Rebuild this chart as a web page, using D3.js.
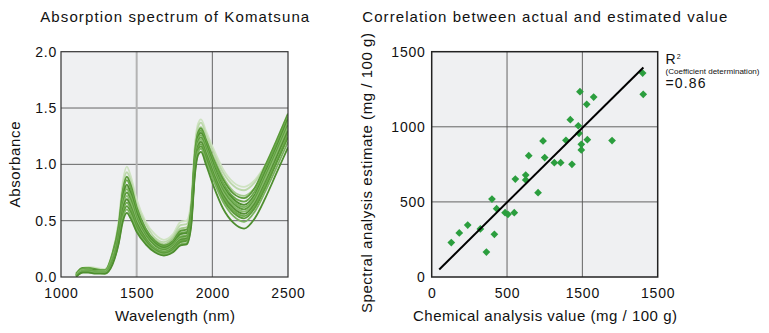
<!DOCTYPE html>
<html>
<head>
<meta charset="utf-8">
<script src="https://cdn.jsdelivr.net/npm/d3@7"></script>
<style>
  body { margin: 0; background: #fff; }
  svg text { font-family: "Liberation Sans", Arial, sans-serif; fill: #111; }
</style>
</head>
<body>
<script>
// Spectra (absorbance at these wavelengths, nm)
var wavelengths = [1100, 1140, 1180, 1230, 1290, 1340, 1380, 1410, 1435, 1460, 1500, 1560, 1620, 1680, 1740,
  1790, 1830, 1860, 1885, 1905, 1925, 1960, 2010, 2070, 2140, 2210, 2280, 2350, 2420, 2500];

var spectra = [
  [0.03, 0.08, 0.09, 0.08, 0.07, 0.22, 0.49, 0.86, 0.98, 0.90, 0.69, 0.49, 0.38, 0.33, 0.38, 0.49, 0.50, 0.68, 1.18, 1.36, 1.40, 1.29, 1.13, 0.96, 0.84, 0.80, 0.86, 0.99, 1.13, 1.30],
  [0.02, 0.07, 0.08, 0.07, 0.06, 0.20, 0.47, 0.82, 0.93, 0.86, 0.65, 0.47, 0.35, 0.31, 0.36, 0.46, 0.47, 0.65, 1.15, 1.33, 1.37, 1.26, 1.10, 0.93, 0.81, 0.77, 0.84, 0.99, 1.15, 1.35],
  [0.02, 0.06, 0.07, 0.06, 0.05, 0.18, 0.40, 0.70, 0.80, 0.74, 0.57, 0.42, 0.33, 0.29, 0.34, 0.43, 0.44, 0.62, 1.11, 1.29, 1.33, 1.22, 1.06, 0.89, 0.76, 0.72, 0.79, 0.93, 1.09, 1.28],
  [0.03, 0.08, 0.08, 0.07, 0.06, 0.21, 0.45, 0.78, 0.89, 0.82, 0.62, 0.43, 0.32, 0.28, 0.32, 0.41, 0.42, 0.60, 1.10, 1.28, 1.32, 1.21, 1.04, 0.87, 0.74, 0.70, 0.79, 0.99, 1.20, 1.45],
  [0.02, 0.07, 0.08, 0.06, 0.06, 0.19, 0.43, 0.76, 0.86, 0.79, 0.60, 0.42, 0.31, 0.27, 0.31, 0.39, 0.40, 0.58, 1.08, 1.26, 1.30, 1.19, 1.02, 0.84, 0.71, 0.67, 0.76, 0.96, 1.17, 1.42],
  [0.02, 0.06, 0.07, 0.06, 0.05, 0.17, 0.41, 0.72, 0.82, 0.75, 0.57, 0.40, 0.30, 0.26, 0.30, 0.38, 0.39, 0.57, 1.06, 1.24, 1.28, 1.17, 0.99, 0.81, 0.69, 0.64, 0.73, 0.93, 1.14, 1.40],
  [0.02, 0.06, 0.07, 0.05, 0.05, 0.16, 0.39, 0.69, 0.78, 0.72, 0.54, 0.38, 0.29, 0.25, 0.29, 0.36, 0.37, 0.55, 1.04, 1.22, 1.26, 1.15, 0.97, 0.79, 0.67, 0.62, 0.71, 0.91, 1.12, 1.38],
  [0.01, 0.05, 0.06, 0.05, 0.04, 0.15, 0.38, 0.66, 0.75, 0.69, 0.52, 0.37, 0.28, 0.24, 0.28, 0.35, 0.36, 0.54, 1.02, 1.20, 1.24, 1.13, 0.95, 0.77, 0.65, 0.60, 0.69, 0.89, 1.10, 1.35],
  [0.02, 0.06, 0.06, 0.05, 0.05, 0.17, 0.36, 0.63, 0.72, 0.66, 0.50, 0.35, 0.26, 0.23, 0.27, 0.34, 0.35, 0.52, 1.00, 1.18, 1.22, 1.11, 0.93, 0.75, 0.63, 0.58, 0.67, 0.87, 1.08, 1.33],
  [0.01, 0.05, 0.05, 0.04, 0.04, 0.14, 0.35, 0.61, 0.69, 0.63, 0.48, 0.34, 0.25, 0.22, 0.26, 0.33, 0.34, 0.51, 0.99, 1.16, 1.20, 1.09, 0.91, 0.73, 0.61, 0.56, 0.65, 0.84, 1.05, 1.30],
  [0.02, 0.05, 0.06, 0.05, 0.04, 0.16, 0.33, 0.58, 0.66, 0.61, 0.46, 0.33, 0.25, 0.22, 0.25, 0.32, 0.33, 0.50, 0.97, 1.14, 1.18, 1.07, 0.89, 0.71, 0.59, 0.54, 0.63, 0.82, 1.02, 1.27],
  [0.01, 0.04, 0.05, 0.04, 0.03, 0.13, 0.32, 0.55, 0.63, 0.58, 0.44, 0.32, 0.24, 0.21, 0.24, 0.31, 0.32, 0.49, 0.95, 1.13, 1.16, 1.05, 0.87, 0.69, 0.57, 0.52, 0.61, 0.79, 1.00, 1.24],
  [0.01, 0.05, 0.05, 0.04, 0.04, 0.12, 0.30, 0.53, 0.60, 0.55, 0.42, 0.30, 0.23, 0.20, 0.23, 0.29, 0.30, 0.47, 0.93, 1.11, 1.14, 1.02, 0.85, 0.67, 0.54, 0.49, 0.58, 0.76, 0.96, 1.20],
  [0.00, 0.04, 0.04, 0.03, 0.03, 0.11, 0.29, 0.50, 0.57, 0.52, 0.40, 0.29, 0.22, 0.19, 0.22, 0.28, 0.29, 0.45, 0.91, 1.08, 1.11, 0.99, 0.80, 0.61, 0.48, 0.43, 0.52, 0.70, 0.91, 1.15]
];

// Correlation plot (mg / 100 g)
var chemicalValues = [130, 183, 239, 323, 363, 400, 416, 431, 487, 506, 548, 555, 624, 624, 644, 706, 739, 750,
  814, 856, 891, 920, 931, 973, 978, 984, 993, 993, 1029, 1033, 1075, 1197, 1400, 1404];
var spectralEstimates = [229, 293, 346, 320, 166, 519, 284, 455, 428, 417, 428, 652, 679, 646, 808, 561, 906, 795,
  761, 761, 910, 1047, 750, 1007, 957, 1234, 883, 846, 1150, 914, 1198, 908, 1358, 1216];
var fitStart = [50, 50];
var fitEnd = [1405, 1395];

var absTicks = [0, 0.5, 1.0, 1.5, 2.0];
var waveTicks = [1000, 1500, 2000, 2500];
var corrTicks = [0, 500, 1000, 1500];
var corrXTickLabels = ["0", "500", "1500", "1500"];
var corrYTickLabels = ["0", "500", "1000", "1500"];

var W = 769, H = 333;
var plotTop = 51.7, plotBottom = 277;

var svg = d3.select("body").append("svg").
  attr("width", W).
  attr("height", H);

// ---------- left: absorption spectrum ----------
var x1 = d3.scaleLinear().domain([1000, 2500]).range([61, 288]);
var y1 = d3.scaleLinear().domain([0, 2]).range([plotBottom, plotTop]);

svg.append("rect").
  attr("x", x1(1000)).attr("y", y1(2)).
  attr("width", x1(2500) - x1(1000)).attr("height", y1(0) - y1(2)).
  attr("fill", "#eff0f2");

svg.append("clipPath").attr("id", "clipSpec").append("rect").
  attr("x", x1(1000)).attr("y", y1(2)).
  attr("width", x1(2500) - x1(1000)).attr("height", y1(0) - y1(2));

// grid
svg.append("g").selectAll("line").
  data([0.5, 1.0, 1.5]).
  enter().append("line").
  attr("x1", x1(1000)).attr("x2", x1(2500)).
  attr("y1", function (d) {return y1(d);}).attr("y2", function (d) {return y1(d);}).
  attr("stroke", "#555").attr("stroke-width", 0.9);

svg.append("line").
  attr("x1", x1(1500)).attr("x2", x1(1500)).attr("y1", y1(2)).attr("y2", y1(0)).
  attr("stroke", "#b3b3b3").attr("stroke-width", 2);
svg.append("line").
  attr("x1", x1(2000)).attr("x2", x1(2000)).attr("y1", y1(2)).attr("y2", y1(0)).
  attr("stroke", "#555").attr("stroke-width", 0.9);

// curves
var specColors = ["#cfe3c2", "#bcd8aa", "#a3c98c", "#5a9a38", "#6aa84a", "#4f8f30", "#78b35a",
  "#5c9c3c", "#86bb6a", "#548f34", "#6ca94c", "#5a9a38", "#7ab25e", "#4e8e2f"];

var line = d3.line().
  x(function (d, i) {return x1(wavelengths[i]);}).
  y(function (d) {return y1(d);}).
  curve(d3.curveMonotoneX);

svg.append("g").
  attr("clip-path", "url(#clipSpec)").
  selectAll("path").
  data(spectra).
  enter().append("path").
  attr("d", line).
  attr("fill", "none").
  attr("stroke", function (d, i) {return specColors[i];}).
  attr("stroke-width", 1.8);

svg.append("rect").
  attr("x", x1(1000)).attr("y", y1(2)).
  attr("width", x1(2500) - x1(1000)).attr("height", y1(0) - y1(2)).
  attr("fill", "none").attr("stroke", "#333").attr("stroke-width", 1.2);

// axes
var ax1 = svg.append("g").
  attr("transform", "translate(" + x1(1000) + ",0)").
  call(d3.axisLeft(y1).tickValues(absTicks).tickSize(0).tickPadding(4).tickFormat(d3.format(".1f")));
ax1.select(".domain").remove();

var ax2 = svg.append("g").
  attr("transform", "translate(0," + y1(0) + ")").
  call(d3.axisBottom(x1).tickValues(waveTicks).tickSize(0).tickPadding(11).tickFormat(d3.format("d")));
ax2.select(".domain").remove();

// ---------- right: correlation ----------
var x2 = d3.scaleLinear().domain([0, 1500]).range([431.7, 657.7]);
var y2 = d3.scaleLinear().domain([0, 1500]).range([plotBottom, plotTop]);

svg.append("rect").
  attr("x", x2(0)).attr("y", y2(1500)).
  attr("width", x2(1500) - x2(0)).attr("height", y2(0) - y2(1500)).
  attr("fill", "#eff0f2");

svg.append("g").selectAll("line").
  data([500, 1000]).
  enter().append("line").
  attr("x1", x2(0)).attr("x2", x2(1500)).
  attr("y1", function (d) {return y2(d);}).attr("y2", function (d) {return y2(d);}).
  attr("stroke", "#555").attr("stroke-width", 0.9);

svg.append("g").selectAll("line").
  data([500, 1000]).
  enter().append("line").
  attr("y1", y2(0)).attr("y2", y2(1500)).
  attr("x1", function (d) {return x2(d);}).attr("x2", function (d) {return x2(d);}).
  attr("stroke", "#555").attr("stroke-width", 0.9);

svg.append("rect").
  attr("x", x2(0)).attr("y", y2(1500)).
  attr("width", x2(1500) - x2(0)).attr("height", y2(0) - y2(1500)).
  attr("fill", "none").attr("stroke", "#222").attr("stroke-width", 1.5);

var diamond = d3.symbol().type(d3.symbolSquare).size(30);

svg.append("g").selectAll("path").
  data(chemicalValues).
  enter().append("path").
  attr("d", diamond).
  attr("transform", function (d, i) {
    return "translate(" + x2(d) + "," + y2(spectralEstimates[i]) + ") rotate(45)";
  }).
  attr("fill", "#2b9e3e");

svg.append("line").
  attr("x1", x2(fitStart[0])).attr("y1", y2(fitStart[1])).
  attr("x2", x2(fitEnd[0])).attr("y2", y2(fitEnd[1])).
  attr("stroke", "#000").attr("stroke-width", 2);

var ax3 = svg.append("g").
  attr("transform", "translate(" + x2(0) + ",0)").
  call(d3.axisLeft(y2).tickValues(corrTicks).tickSize(0).tickPadding(6).
    tickFormat(function (d, i) {return corrYTickLabels[i];}));
ax3.select(".domain").remove();

var ax4 = svg.append("g").
  attr("transform", "translate(0," + y2(0) + ")").
  call(d3.axisBottom(x2).tickValues(corrTicks).tickSize(0).tickPadding(11).
    tickFormat(function (d, i) {return corrXTickLabels[i];}));
ax4.select(".domain").remove();

svg.selectAll(".tick text").
  attr("fill", "#111").
  style("font-size", "14px").
  style("letter-spacing", "0.8px");

// ---------- texts ----------
svg.append("text").
  attr("x", 174.7).attr("y", 21.7).
  attr("text-anchor", "middle").
  attr("textLength", 269).attr("lengthAdjust", "spacing").
  style("font-size", "15px").
  text("Absorption spectrum of Komatsuna");

svg.append("text").
  attr("x", 544.8).attr("y", 21.7).
  attr("text-anchor", "middle").
  attr("textLength", 365).attr("lengthAdjust", "spacing").
  style("font-size", "15px").
  text("Correlation between actual and estimated value");

svg.append("text").
  attr("x", 175).attr("y", 321).
  attr("text-anchor", "middle").
  attr("textLength", 120).attr("lengthAdjust", "spacing").
  style("font-size", "15px").
  text("Wavelength (nm)");

svg.append("text").
  attr("transform", "translate(20,164.5) rotate(-90)").
  attr("text-anchor", "middle").
  attr("textLength", 86).attr("lengthAdjust", "spacing").
  style("font-size", "15px").
  text("Absorbance");

svg.append("text").
  attr("x", 545).attr("y", 321).
  attr("text-anchor", "middle").
  attr("textLength", 264).attr("lengthAdjust", "spacing").
  style("font-size", "15px").
  text("Chemical analysis value (mg / 100 g)");

svg.append("text").
  attr("transform", "translate(371.5,173) rotate(-90)").
  attr("text-anchor", "middle").
  attr("textLength", 280).attr("lengthAdjust", "spacing").
  style("font-size", "15px").
  text("Spectral analysis estimate (mg / 100 g)");

// R squared note
var r2 = svg.append("text").
  attr("x", 665.5).attr("y", 64).
  style("font-size", "14px");
r2.append("tspan").text("R");
r2.append("tspan").attr("dx", 1).attr("dy", -5).style("font-size", "7px").text("2");

svg.append("text").
  attr("x", 665.5).attr("y", 73.5).
  attr("textLength", 94).attr("lengthAdjust", "spacingAndGlyphs").
  style("font-size", "6.5px").
  text("(Coefficient determination)");

svg.append("text").
  attr("x", 665.5).attr("y", 88).
  attr("textLength", 40).attr("lengthAdjust", "spacing").
  style("font-size", "14px").
  text("=0.86");
</script>
</body>
</html>
